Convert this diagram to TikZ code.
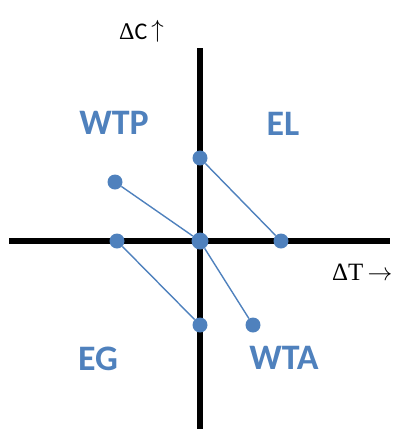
\documentclass[tikz,border=0pt]{standalone}
\usepackage{fontspec}
\setmainfont{Liberation Serif}
\newfontfamily\carlito{Carlito}
\definecolor{ablue}{HTML}{4F81BD}
\tikzset{
  axisline/.style={line width=6bp, black},
  conn/.style={line width=1.4bp, ablue},
  dotpt/.style={circle, fill=ablue, inner sep=0pt, minimum size=15bp},
  quad/.style={text=ablue, font=\carlito\bfseries\fontsize{36}{40}\selectfont, inner sep=0pt},
}
\begin{document}
\begin{tikzpicture}[x=1bp,y=-1bp]
\useasboundingbox (0,0) rectangle (404,429);
\coordinate (vt) at (200,48);
\coordinate (vb) at (200,429);
\coordinate (hl) at (9,241);
\coordinate (hr) at (390,241);
\draw[axisline] (vt) -- (vb);
\draw[axisline] (hl) -- (hr);
\node[dotpt] (a) at (200,158) {};
\node[dotpt] (b) at (115,182) {};
\node[dotpt] (c) at (117,241) {};
\node[dotpt, minimum size=17bp] (o) at (200,241) {};
\node[dotpt] (d) at (281,241) {};
\node[dotpt] (e) at (200,325) {};
\node[dotpt] (f) at (253,325) {};
\draw[conn] (a) -- (d);
\draw[conn] (b) -- (o);
\draw[conn] (c) -- (e);
\draw[conn] (o) -- (f);
\node[quad] (wtp) at (114,123) {WTP};
\node[quad] (el) at (283,124) {EL};
\node[quad] (eg) at (98,359) {EG};
\node[quad] (wta) at (284,358) {WTA};
\node[inner sep=0pt, anchor=base west, font=\fontsize{24}{26}\selectfont] (dc) at (119,39) {Δ{\carlito C}\hspace{4bp}\raisebox{2bp}{\fontsize{36}{38}\selectfont$\uparrow$}};
\node[inner sep=0pt, anchor=base west, font=\fontsize{25}{27}\selectfont] (dt) at (332,280) {ΔT\,$\rightarrow$};
\end{tikzpicture}
\end{document}
